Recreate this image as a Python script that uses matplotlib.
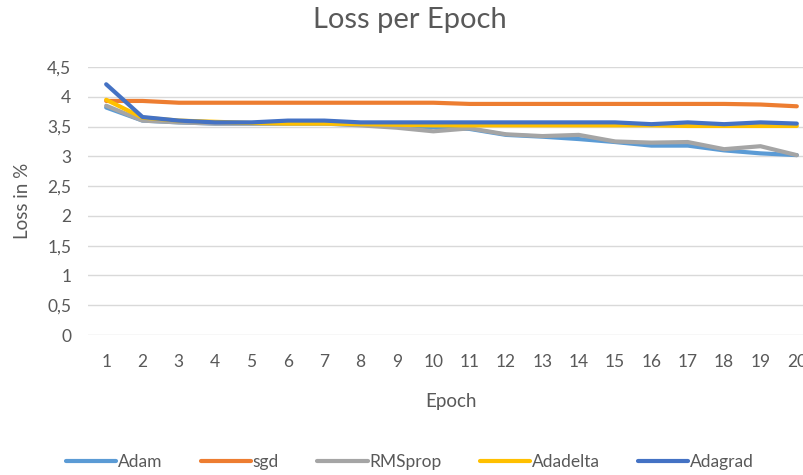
import matplotlib.pyplot as plt

plt.rcParams['font.family'] = ['Lato', 'DejaVu Sans']

epochs = list(range(1, 21))
adam = [3.82, 3.60, 3.57, 3.55, 3.55, 3.55, 3.55, 3.53, 3.51, 3.49, 3.46, 3.36, 3.33, 3.29, 3.24, 3.18, 3.18, 3.10, 3.05, 3.02]
sgd = [3.93, 3.93, 3.90, 3.90, 3.90, 3.90, 3.90, 3.90, 3.90, 3.90, 3.88, 3.88, 3.88, 3.88, 3.88, 3.88, 3.88, 3.88, 3.87, 3.84]
rmsprop = [3.85, 3.60, 3.57, 3.55, 3.55, 3.55, 3.55, 3.52, 3.48, 3.42, 3.47, 3.37, 3.34, 3.36, 3.25, 3.23, 3.24, 3.12, 3.17, 3.02]
adadelta = [3.95, 3.65, 3.60, 3.58, 3.56, 3.55, 3.55, 3.54, 3.53, 3.52, 3.52, 3.52, 3.52, 3.52, 3.52, 3.52, 3.51, 3.51, 3.51, 3.51]
adagrad = [4.21, 3.66, 3.60, 3.57, 3.57, 3.60, 3.60, 3.57, 3.57, 3.57, 3.57, 3.57, 3.57, 3.57, 3.57, 3.54, 3.57, 3.54, 3.57, 3.55]

names = ['Adam', 'sgd', 'RMSprop', 'Adadelta', 'Adagrad']
series = [adam, sgd, rmsprop, adadelta, adagrad]
colors = ['#5B9BD5', '#ED7D31', '#A5A5A5', '#FFC000', '#4472C4']
yticks = [0, 0.5, 1, 1.5, 2, 2.5, 3, 3.5, 4, 4.5]
ytick_labels = ['0', '0,5', '1', '1,5', '2', '2,5', '3', '3,5', '4', '4,5']

fig = plt.figure(figsize=(8.04, 4.75), dpi=100)
ax = fig.add_axes([88 / 804, 140 / 475, 727 / 804, 268 / 475])

for vals, name, c in zip(series, names, colors):
    ax.plot(epochs, vals, color=c, lw=3, label=name, solid_capstyle='round')

ax.set_xlim(0.5, 20.5)
ax.set_ylim(0, 4.5)
ax.set_xticks(epochs)
ax.set_yticks(yticks)
ax.set_yticklabels(ytick_labels)
ax.grid(axis='y', color='#D9D9D9', lw=1)
ax.set_axisbelow(True)
for s in ax.spines.values():
    s.set_visible(False)
ax.tick_params(length=0, labelsize=12.5, colors='#595959')
ax.tick_params(axis='x', pad=14)
ax.tick_params(axis='y', pad=12)

ax.set_xlabel('Epoch', fontsize=13.5, color='#595959', labelpad=16)
ax.set_ylabel('Loss in %', fontsize=13.5, color='#595959', labelpad=12)
fig.text(410 / 804, 1 - 20 / 475, 'Loss per Epoch', ha='center', va='center',
         fontsize=21, color='#595959')

fig.legend(loc='center', bbox_to_anchor=(410 / 804, 1 - 462 / 475), ncol=5,
           frameon=False, fontsize=12.5, handlelength=2.9, handletextpad=0.1,
           columnspacing=2.2, labelcolor='#595959')

fig.savefig('out.png', dpi=100)
